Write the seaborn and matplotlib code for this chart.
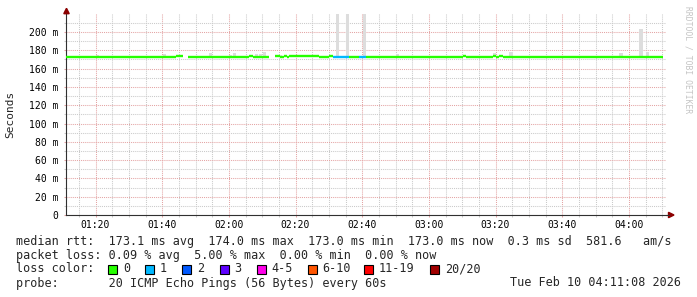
import matplotlib
matplotlib.use("Agg")
import matplotlib.pyplot as plt
import matplotlib.dates as mdates
from matplotlib.patches import Polygon, Rectangle
import seaborn as sns
import pandas as pd

# ---------------- data ----------------
DAY = "2026-02-10 "
seg_start = ["01:11:08", "01:44:00", "01:47:50", "02:06:00", "02:07:18", "02:13:56",
             "02:15:12", "02:16:24", "02:17:18", "02:18:06", "02:27:00", "02:30:00",
             "02:31:18", "02:36:00", "02:39:00", "02:41:06", "03:10:06", "03:11:06",
             "03:19:12", "03:20:06", "03:21:00", "03:22:12"]
seg_end = ["01:44:00", "01:46:12", "02:06:00", "02:07:18", "02:12:00", "02:15:12",
           "02:16:24", "02:17:18", "02:18:06", "02:27:00", "02:30:00", "02:31:18",
           "02:36:00", "02:39:00", "02:41:06", "03:10:06", "03:11:06", "03:19:12",
           "03:20:06", "03:21:00", "03:22:12", "04:10:12"]
seg_rtt_ms = [173.0, 174.0, 173.0, 174.0, 173.0, 174.0, 173.0, 174.0, 173.0, 174.0, 173.0,
              174.0, 173.0, 173.0, 173.0, 173.0, 174.0, 173.0, 174.0, 173.0, 174.0, 173.0]
seg_loss = [0, 0, 0, 0, 0, 0, 0, 0, 0, 0, 0, 0, 1, 0, 1, 0, 0, 0, 0, 0, 0, 0]

smoke_time = ["01:20:00", "01:40:12", "01:53:54", "01:59:54", "02:01:06", "02:07:48",
              "02:09:00", "02:10:12", "02:15:00", "02:32:06", "02:35:00", "02:40:06",
              "02:50:00", "03:19:06", "03:24:06", "03:57:06", "04:03:06", "04:05:06"]
smoke_top_ms = [175.0, 176.0, 177.0, 175.0, 177.0, 176.0, 176.0, 178.0, 175.0,
                250.0, 250.0, 250.0, 176.5, 177.5, 178.6, 177.5, 203.6, 178.6]
smoke_base_ms = [173.0, 173.0, 173.0, 173.0, 173.0, 173.0, 173.0, 173.0, 173.0,
                 173.0, 173.0, 173.0, 173.0, 173.0, 173.0, 173.0, 173.0, 173.0]

loss_labels = ["0", "1", "2", "3", "4-5", "6-10", "11-19", "20/20"]
loss_colors = ["#26ff00", "#00b8ff", "#0059ff", "#5e00ff", "#ff00ea", "#ff5500", "#ff0000", "#a10000"]

y_ticks_ms = [0, 20, 40, 60, 80, 100, 120, 140, 160, 180, 200]

line1 = "median rtt:  173.1 ms avg  174.0 ms max  173.0 ms min  173.0 ms now  0.3 ms sd  581.6   am/s"
line2 = "packet loss: 0.09 % avg  5.00 % max  0.00 % min  0.00 % now"
line3 = "loss color:"
line4 = "probe:       20 ICMP Echo Pings (56 Bytes) every 60s"
stamp = "Tue Feb 10 04:11:08 2026"
watermark = "RRDTOOL / TOBI OETIKER"

# ---------------- figure ----------------
sns.set_style("white")
plt.rcParams["font.family"] = ["DejaVu Sans Mono"]

W, H = 697, 297
fig = plt.figure(figsize=(W / 100, H / 100), dpi=100)
fig.patch.set_facecolor("white")

def fx(px):
    return px / W

def fy(py):
    return 1 - py / H

ax = fig.add_axes([fx(66), fy(215), fx(666) - fx(66), fy(13.7) - fy(215)])
ax.set_facecolor("white")

t = lambda s: pd.Timestamp(DAY + s)

# smoke
st = [t(s) for s in smoke_time]
heights = [a - b for a, b in zip(smoke_top_ms, smoke_base_ms)]
ax.bar(st, heights, bottom=smoke_base_ms, width=1 / 1440, align="edge",
       color="#dddddd", linewidth=0, zorder=2)

# median line segments coloured by loss
for s0, s1, v, l in zip(seg_start, seg_end, seg_rtt_ms, seg_loss):
    d = pd.DataFrame({"time": [t(s0), t(s1)], "rtt": [v, v]})
    sns.lineplot(data=d, x="time", y="rtt", ax=ax, color=loss_colors[l],
                 linewidth=1.7, solid_capstyle="butt", estimator=None, zorder=4)

ax.set_xlim(t("01:11:08"), t("04:11:08"))
ax.set_ylim(0, 220)
ax.set_xlabel("")
ax.set_ylabel("")

ax.xaxis.set_major_locator(mdates.MinuteLocator(byminute=[0, 20, 40]))
ax.xaxis.set_minor_locator(mdates.MinuteLocator(byminute=range(0, 60, 5)))
ax.xaxis.set_major_formatter(mdates.DateFormatter("%H:%M"))
ax.set_yticks(y_ticks_ms)
ax.set_yticks(list(range(10, 220, 10)), minor=True)
ax.set_yticklabels(["0" if v == 0 else f"{v} m" for v in y_ticks_ms])

major_c = "#e4a4a4"
minor_c = "#cacaca"
ax.grid(which="major", color=major_c, linestyle=(0, (1, 1)), linewidth=0.75, zorder=1)
ax.grid(which="minor", color=minor_c, linestyle=(0, (1, 1)), linewidth=0.75, zorder=1)
ax.set_axisbelow(True)

ax.tick_params(axis="both", which="major", length=1.5, width=0.75, color=major_c,
               labelsize=7, labelcolor="#000000")
ax.tick_params(axis="both", which="minor", length=1.5, width=0.75, color=minor_c)
ax.tick_params(axis="x", which="major", pad=1.8)
ax.tick_params(axis="y", which="major", pad=3.8)
ax.tick_params(bottom=True, left=True, which="both")

for side in ["top", "right"]:
    ax.spines[side].set_visible(False)
for side in ["left", "bottom"]:
    ax.spines[side].set_color("#303030")
    ax.spines[side].set_linewidth(0.8)

# axis arrows
arrow_c = "#8b0000"
fig.patches.append(Polygon([(fx(63.8), fy(13.7)), (fx(69.2), fy(13.7)), (fx(66.5), fy(8.3))],
                           closed=True, transform=fig.transFigure, color=arrow_c, figure=fig))
fig.patches.append(Polygon([(fx(668.5), fy(212.3)), (fx(668.5), fy(217.7)), (fx(674), fy(215))],
                           closed=True, transform=fig.transFigure, color=arrow_c, figure=fig))
fig.lines.append(plt.Line2D([fx(666), fx(669)], [fy(215), fy(215)], transform=fig.transFigure,
                            color="#303030", linewidth=0.8, figure=fig))

# y label & watermark
fig.text(fx(10), fy(114), "Seconds", rotation=90, ha="center", va="center", fontsize=8)
fig.text(fx(688), fy(60), watermark, rotation=270, ha="center", va="center",
         fontsize=5.8, color="#c4c4c4")

# legend text
fs = 8.5
fig.text(fx(16), fy(241), line1, ha="left", va="center", fontsize=fs)
fig.text(fx(16), fy(255), line2, ha="left", va="center", fontsize=fs)
fig.text(fx(16), fy(269), line3, ha="left", va="center", fontsize=fs)
fig.text(fx(16), fy(283), line4, ha="left", va="center", fontsize=fs)
fig.text(fx(681), fy(283), stamp, ha="right", va="center", fontsize=fs)

box_x = [108, 145, 182, 219.5, 256.5, 307.5, 364, 430]
for bx, lab, col in zip(box_x, loss_labels, loss_colors):
    fig.patches.append(Rectangle((fx(bx), fy(273.5)), fx(9), 9 / H, transform=fig.transFigure,
                                 facecolor=col, edgecolor="#000000", linewidth=0.8, figure=fig))
    fig.text(fx(bx + 15), fy(269), lab, ha="left", va="center", fontsize=fs)

fig.savefig("out.png", dpi=100, facecolor="white")
